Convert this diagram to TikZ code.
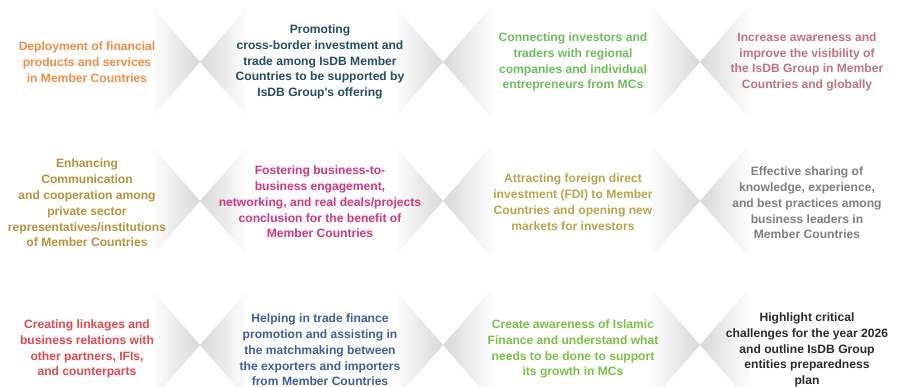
\documentclass[tikz,border=0pt]{standalone}
\usepackage{fontspec}
\setmainfont{Liberation Sans}[Ligatures=TeXOff]
\usepackage{xcolor}
\usepackage{tikz}
\definecolor{tipgray}{HTML}{D8D8D8}
\definecolor{cOrange}{HTML}{F48C42}
\definecolor{cSlate}{HTML}{23505E}
\definecolor{cGreen}{HTML}{6DBE5B}
\definecolor{cRose}{HTML}{C0737F}
\definecolor{cGold}{HTML}{B8913A}
\definecolor{cMagenta}{HTML}{D9347F}
\definecolor{cOlive}{HTML}{B5A64E}
\definecolor{cGray}{HTML}{7F7F7F}
\definecolor{cRed}{HTML}{E5474F}
\definecolor{cBlue}{HTML}{3F5DA0}
\definecolor{cLime}{HTML}{7BC043}
\definecolor{cDark}{HTML}{2B2B2B}
\pgfdeclarehorizontalshading{bothfade}{100bp}{color(0bp)=(tipgray); color(25bp)=(tipgray); color(35bp)=(white); color(65bp)=(white); color(75bp)=(tipgray); color(100bp)=(tipgray)}
\pgfdeclarehorizontalshading{rightfade}{100bp}{color(0bp)=(white); color(64bp)=(white); color(75bp)=(tipgray); color(100bp)=(tipgray)}
\pgfdeclarehorizontalshading{leftfade}{100bp}{color(0bp)=(tipgray); color(25bp)=(tipgray); color(37bp)=(white); color(100bp)=(white)}

\begin{document}
\begin{tikzpicture}[x=1pt,y=-1pt,
  goal/.style={font=\fontsize{12.1}{15.8}\selectfont\bfseries, align=center, inner sep=0pt}]
  \useasboundingbox (0,0) rectangle (897,387);
  \clip (0,0) rectangle (897,387);
  \foreach \y in {62,201,345}
    \foreach \a/\b/\sh in {-26/200/rightfade, 200/443/bothfade, 443/700/bothfade, 700/914/leftfade}
      \shade[shading=\sh] (\a,\y) -- (\a+47,\y-54) -- (\b-47,\y-54) -- (\b,\y)
        -- (\b-47,\y+54) -- (\a+47,\y+54) -- cycle;
  \node[goal, text=cOrange] (dep) at (87,62) {Deployment of financial\\products and services\\in Member Countries};
  \node[goal, text=cSlate] (prom) at (320,62) {Promoting\\cross-border investment and\\trade among IsDB Member\\Countries to be supported by\\IsDB Group's offering};
  \node[goal, text=cGreen] (conn) at (573,62) {Connecting investors and\\traders with regional\\companies and individual\\entrepreneurs from MCs};
  \node[goal, text=cRose] (aware) at (807,62) {Increase awareness and\\improve the visibility of\\the IsDB Group in Member\\Countries and globally};
  \node[goal, text=cGold] (comm) at (87,203) {Enhancing\\Communication\\and cooperation among\\private sector\\representatives/institutions\\of Member Countries};
  \node[goal, text=cMagenta] (b2b) at (320,202) {Fostering business-to-\\business engagement,\\networking, and real deals/projects\\conclusion for the benefit of\\Member Countries};
  \node[goal, text=cOlive] (fdi) at (573,202) {Attracting foreign direct\\investment (FDI) to Member\\Countries and opening new\\markets for investors};
  \node[goal, text=cGray] (share) at (807,203) {Effective sharing of\\knowledge, experience,\\and best practices among\\business leaders in\\Member Countries};
  \node[goal, text=cRed] (link) at (87,349) {Creating linkages and\\business relations with\\other partners, IFIs,\\and counterparts};
  \node[goal, text=cBlue] (trade) at (320,350) {Helping in trade finance\\promotion and assisting in\\the matchmaking between\\the exporters and importers\\from Member Countries};
  \node[goal, text=cLime] (islam) at (573,349) {Create awareness of Islamic\\Finance and understand what\\needs to be done to support\\its growth in MCs};
  \node[goal, text=cDark] (risk) at (807,350) {Highlight critical\\challenges for the year 2026\\and outline IsDB Group\\entities preparedness\\plan};
\end{tikzpicture}
\end{document}
